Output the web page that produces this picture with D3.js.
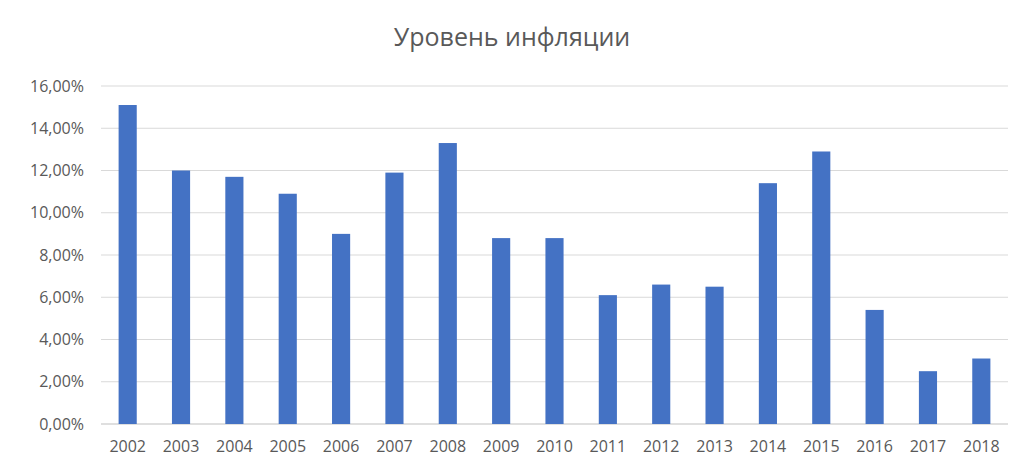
<!DOCTYPE html>
<html><head><meta charset="utf-8">
<script src="https://cdn.jsdelivr.net/npm/d3@7"></script>
<style>body{margin:0;background:#fff}svg{font-family:"Open Sans",sans-serif}</style>
</head><body><svg id="c" width="1024" height="468"></svg>
<script>
const categories=["2002","2003","2004","2005","2006","2007","2008","2009","2010","2011","2012","2013","2014","2015","2016","2017","2018"];
const values=[15.1,12.0,11.7,10.9,9.0,11.9,13.3,8.8,8.8,6.1,6.6,6.5,11.4,12.9,5.4,2.5,3.1];
const yTicks=[0,2,4,6,8,10,12,14,16];
const title="Уровень инфляции";
const svg=d3.select("#c");
const x=d3.scaleBand().domain(categories).range([101,1008]).paddingInner(0.66).paddingOuter(0.33);
const y=d3.scaleLinear().domain([0,16]).range([424,86]);
const fmt=v=>v.toFixed(2).replace(".",",")+"%";
svg.append("g").selectAll("line").data(yTicks).join("line")
 .attr("x1",101).attr("x2",1008).attr("y1",d=>y(d)).attr("y2",d=>y(d))
 .attr("stroke",d=>d===0?"#bfbfbf":"#d9d9d9").attr("stroke-width",1);
svg.append("g").selectAll("text").data(yTicks).join("text")
 .attr("x",84).attr("y",d=>y(d)).attr("dy","0.35em").attr("text-anchor","end")
 .attr("font-size",16).attr("fill","#595959").text(fmt);
svg.append("g").selectAll("rect").data(values).join("rect")
 .attr("x",(d,i)=>x(categories[i])).attr("width",x.bandwidth())
 .attr("y",d=>y(d)).attr("height",d=>y(0)-y(d)).attr("fill","#4472c4");
svg.append("g").selectAll("text").data(categories).join("text")
 .attr("x",d=>x(d)+x.bandwidth()/2).attr("y",452).attr("text-anchor","middle")
 .attr("font-size",16).attr("fill","#595959").text(d=>d);
svg.append("text").attr("x",512).attr("y",46).attr("text-anchor","middle")
 .attr("font-size",25).attr("fill","#595959").text(title);
</script></body></html>
